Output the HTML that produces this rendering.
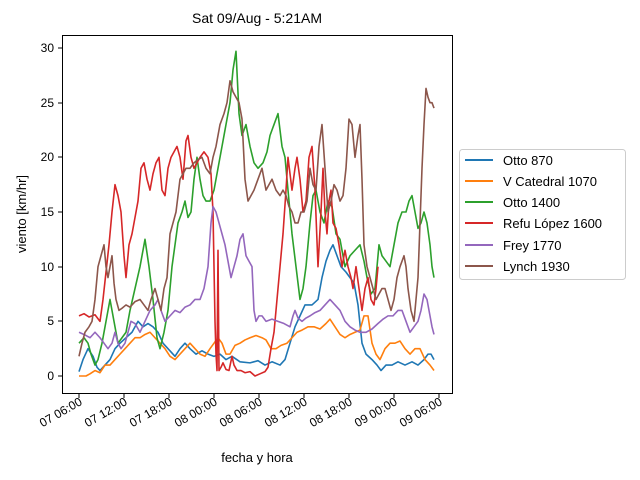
<!DOCTYPE html>
<html><head><meta charset="utf-8"><style>
html,body{margin:0;padding:0;background:#fff;}
svg{display:block;font-family:"Liberation Sans","DejaVu Sans",sans-serif;}
</style></head><body>
<svg width="640" height="480" viewBox="0 0 640 480" xmlns="http://www.w3.org/2000/svg">
<rect width="640" height="480" fill="#fff"/>
<text x="257" y="23" font-size="14" text-anchor="middle">Sat 09/Aug - 5:21AM</text>
<g fill="none" stroke-width="1.6" stroke-linejoin="round">
<g transform="translate(0,376) scale(1,-10.933)">
<polyline vector-effect="non-scaling-stroke" stroke="#1f77b4" points="79,0.4 83,1.5 88,2.5 93,1.8 97,0.8 100,0.5 105,1 110,1.5 115,2.5 120,3 126,3.5 132,4 138,5 143,4.5 148,4.8 153,4.5 158,4 163,3 168,2.5 175,1.8 180,2.5 185,3 190,2.5 196,2 202,2.3 208,2 214,1.8 220,2 226,1.5 232,1.8 240,1.3 250,1.2 258,1.4 265,1 272,1.3 280,1 285,1.5 290,3 295,4.5 300,5.5 305,6.5 312,6.5 318,7 322,9 326,10.5 330,11.5 333,12 337,11 341,10 346,9.5 350,9 354,8.5 358,6.5 362,3 366,2 372,1.5 377,1 381,0.5 386,1 392,1 398,1.3 405,1 412,1.3 418,1 424,1.5 428,2 431,2 434,1.5"/>
<polyline vector-effect="non-scaling-stroke" stroke="#ff7f0e" points="79,0 86,0 90,0.2 95,0.5 100,0.3 105,1 110,1 115,1.5 120,2 125,2.5 130,3 135,3.5 140,3.5 145,3.8 150,4 155,3.5 160,3 165,2.5 170,1.8 175,1.5 180,2 185,2.5 190,3 195,2.5 200,2 205,1.8 210,2.5 214,3 218,3.5 222,3 226,2 230,2 235,2.8 240,3 245,3.3 250,3.5 256,3.7 262,3.5 266,3.3 271,2.5 276,2.5 281,2.8 287,3 292,3.5 297,4 302,4.2 308,4.5 314,4.5 320,4.3 326,4.8 330,5.2 335,4.5 340,3.8 345,3.5 350,3.8 355,4 360,4.2 364,5.5 368,5.5 372,3 376,2 380,1.5 385,2.5 390,3 395,3 400,3.2 405,2.5 410,2 415,2.5 420,2.5 425,1.5 430,1 434,0.5"/>
<polyline vector-effect="non-scaling-stroke" stroke="#2ca02c" points="79,3 84,3.5 88,3 91,2 95,1 98,1.5 102,3 106,5 110,7 114,5 118,3 122,3.5 126,4 130,6 135,8 140,10 145,12.5 149,10 153,7 157,3.5 160,2.5 164,4 168,6 172,10 175,12 178,14 182,15 185,16 188,14.5 191,15 194,18 197,20 200,18 203,16.5 206,16 210,16 214,17 218,19 222,21 226,23 230,25 233,28 236,29.7 239,24 242,22 246,23 250,21 254,19.5 258,19 263,19.5 267,20.5 270,22 274,23 278,24 282,21 285,20 289,16 292,13 296,10 300,7 303,8 306,10 310,14 313,16.5 316,17 320,15 324,14 328,16 332,15.5 336,13 340,12.5 345,10 350,11 355,11.5 360,12 364,10.5 367,9 371,7.5 375,8 379,12 382,11 386,10.5 390,10 394,12 398,14 402,15 406,15 409,16 412,16.5 415,15 418,13.5 421,14 424,15 427,14 430,12 432,10 434,9"/>
<polyline vector-effect="non-scaling-stroke" stroke="#d62728" points="79,5.5 84,5.7 89,5.4 95,5.6 100,5 103,7 106,9.5 109,12 112,15 115,17.5 118,16.5 121,15 124,11 126,9 129,12 132,13 135,14.5 138,16 141,19 144,19.5 147,18 150,17 153,18.5 156,19.5 159,20 162,17 165,16.5 168,19 171,20 174,20.5 177,21 180,20 183,18 186,21.5 188,22 191,20 194,19 197,19.5 200,20 204,20.5 208,20 211,18.5 213,15 214,10 215,5 216,2 217,0.5 218,11.5 219,0.5 221,0.8 223,1.2 226,0.6 229,0.5 232,1.8 234,1 237,0.5 241,0.5 245,0.3 250,0.4 255,0 260,0.2 265,0.4 268,0.8 271,2.5 274,4 277,7 280,10 283,13 286,17 288,20 290,18.5 292,17 295,19 297,20 300,18 303,15 306,16 309,20 312,21 315,17 318,10 321,15 323,19 325,15 327,13 329,16 331,17 333,14 336,13.5 339,12 342,10 345,11.5 348,10 351,9 353,8 356,10 359,8 362,6 365,8 368,9 371,7 374,6.5 376,8 378,10"/>
<polyline vector-effect="non-scaling-stroke" stroke="#9467bd" points="79,4 84,3.8 90,3.5 95,4 100,3.5 104,3 108,2.5 112,3 115,4 118,3 121,2.5 125,3 128,4 131,5 135,4.8 140,4 145,5 150,6 155,6.5 158,7 161,6 165,5 170,5.5 175,6 180,5.8 185,6.3 190,6.5 195,7 200,7 204,8 208,10 211,14 213,15.5 216,15 219,14 222,13 225,12 228,10.5 231,9 234,10 237,11 240,12.5 243,13 246,11 249,10.5 252,10 254,6 256,5 259,5.5 262,5.5 266,5 272,5.2 278,5 284,4.8 290,4.5 293,5.5 295,6 298,5.3 302,5 306,5.3 310,5.5 315,5.8 320,6 325,6.5 330,7 335,6.5 340,6 345,5 350,4.5 355,4.2 360,4 366,4 372,4.3 378,4.8 383,5.2 388,5.5 393,5.5 398,6 402,6 406,5 410,4 414,4.5 418,5 421,6 424,7.5 427,7 430,5.5 432,4.5 434,3.8"/>
<polyline vector-effect="non-scaling-stroke" stroke="#8c564b" points="79,1.8 82,3 85,4 89,4.5 92,5 95,7 98,10 101,11 104,12 106,10 108,9 110,10 112,11 114,8.5 116,7 119,6 122,6.2 126,6.5 130,6.3 135,6.8 140,7 144,6.5 148,6 151,7 155,8 158,7 161,6 164,8 167,9 170,13 173,14 176,15 180,18 183,18.5 186,19 190,19 194,19.5 198,19.8 202,20 206,19 210,18.5 213,20 216,21 220,23 224,24 227,25 230,27 233,26 236,25.5 239,25 242,23.5 245,18 248,16 251,16.5 254,17 258,18 262,19 264,18 266,17 269,17.5 272,18 276,17 280,16.5 283,17 286,16.5 289,15.5 292,15 295,14 298,14 301,15 304,15 307,16 310,19 313,17.5 316,17 319,21 322,23 325,19 328,15 331,16 334,17.5 337,17 340,16 343,16.5 346,19 349,23.5 352,23 355,20 358,22 360,23 362,18 364,12 367,10 370,9 373,8 376,7 379,7.5 382,8 385,8 388,7 391,6 394,7 397,9 400,10 404,11 406,10 408,8 411,6 414,5 416,7 418,9 420,14 422,19 424,23 426,26.3 428,25.5 430,25 432,25 434,24.5"/>
</g>
</g>
<rect x="62.5" y="35.5" width="390" height="358" fill="none" stroke="#000" stroke-width="1"/>
<g stroke="#000" stroke-width="1">
<line x1="58" x2="62" y1="376" y2="376"/><line x1="58" x2="62" y1="321" y2="321"/><line x1="58" x2="62" y1="267" y2="267"/><line x1="58" x2="62" y1="212" y2="212"/><line x1="58" x2="62" y1="157" y2="157"/><line x1="58" x2="62" y1="103" y2="103"/><line x1="58" x2="62" y1="48" y2="48"/>
<line x1="79" x2="79" y1="394" y2="398"/><line x1="124" x2="124" y1="394" y2="398"/><line x1="169" x2="169" y1="394" y2="398"/><line x1="214" x2="214" y1="394" y2="398"/><line x1="259" x2="259" y1="394" y2="398"/><line x1="304" x2="304" y1="394" y2="398"/><line x1="349" x2="349" y1="394" y2="398"/><line x1="394" x2="394" y1="394" y2="398"/><line x1="439" x2="439" y1="394" y2="398"/>
</g>
<g font-size="12" text-anchor="end">
<text x="54" y="380">0</text><text x="54" y="325">5</text><text x="54" y="271">10</text><text x="54" y="216">15</text><text x="54" y="161">20</text><text x="54" y="107">25</text><text x="54" y="52">30</text>
</g>
<g font-size="12" text-anchor="end">
<text transform="translate(83,404) rotate(-30)">07 06:00</text>
<text transform="translate(128,404) rotate(-30)">07 12:00</text>
<text transform="translate(173,404) rotate(-30)">07 18:00</text>
<text transform="translate(218,404) rotate(-30)">08 00:00</text>
<text transform="translate(263,404) rotate(-30)">08 06:00</text>
<text transform="translate(308,404) rotate(-30)">08 12:00</text>
<text transform="translate(353,404) rotate(-30)">08 18:00</text>
<text transform="translate(398,404) rotate(-30)">09 00:00</text>
<text transform="translate(443,404) rotate(-30)">09 06:00</text>
</g>
<text x="257" y="462" font-size="13" text-anchor="middle">fecha y hora</text>
<text transform="translate(26,214) rotate(-90)" font-size="13" text-anchor="middle">viento [km/hr]</text>
<rect x="459.5" y="149.5" width="166" height="130" rx="3" fill="#fff" stroke="#ccc"/>
<g stroke-width="2">
<line x1="465" x2="493" y1="160" y2="160" stroke="#1f77b4"/>
<line x1="465" x2="493" y1="181" y2="181" stroke="#ff7f0e"/>
<line x1="465" x2="493" y1="202" y2="202" stroke="#2ca02c"/>
<line x1="465" x2="493" y1="223" y2="223" stroke="#d62728"/>
<line x1="465" x2="493" y1="245" y2="245" stroke="#9467bd"/>
<line x1="465" x2="493" y1="266" y2="266" stroke="#8c564b"/>
</g>
<g font-size="13">
<text x="503" y="165">Otto 870</text>
<text x="503" y="186">V Catedral 1070</text>
<text x="503" y="207">Otto 1400</text>
<text x="503" y="228">Refu López 1600</text>
<text x="503" y="250">Frey 1770</text>
<text x="503" y="271">Lynch 1930</text>
</g>
</svg>
</body></html>
